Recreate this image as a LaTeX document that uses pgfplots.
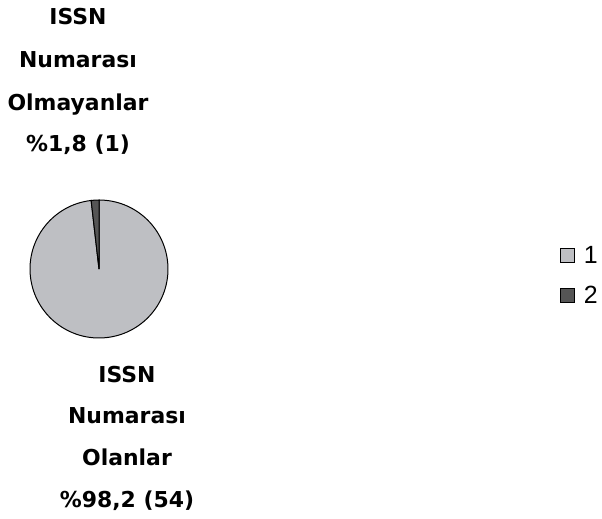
\documentclass[border=0pt]{standalone}
\usepackage{fontspec}
\setmainfont{DejaVu Sans}
\newfontfamily\legfont{Liberation Sans}
\usepackage{pgfplots}
\pgfplotsset{compat=1.18}
\definecolor{pieA}{HTML}{BEBFC3}
\definecolor{pieB}{HTML}{555555}
% slice values
\def\valA{54}
\def\valB{1}
\begin{document}
\begin{tikzpicture}
\pgfmathsetmacro{\tot}{\valA+\valB}
\pgfmathsetmacro{\angB}{360*\valB/\tot}
\begin{axis}[scale only axis, width=602bp, height=519bp,
  xmin=0, xmax=602, ymin=0, ymax=519, y dir=reverse,
  hide axis, clip=false,
  legend style={at={(axis cs:558,242)}, anchor=north west, draw=none, fill=none,
    font=\legfont\fontsize{25}{28}\selectfont, row sep=17bp, inner sep=2bp,
    nodes={inner sep=2bp}},
  legend cell align=left,
  legend image code/.code={\filldraw[#1, draw=black, line width=1bp] (0bp,-7bp) rectangle (14bp,7bp); \path (21bp,0bp);}]
\addlegendimage{fill=pieA}
\addlegendentry{1}
\addlegendimage{fill=pieB}
\addlegendentry{2}
% pie, drawn clockwise from 12 o'clock
\filldraw[fill=pieA, draw=black, line width=1bp] (axis cs:99,269) -- ++(90+\angB:69bp) arc[start angle=90+\angB, end angle=450, radius=69bp] -- cycle;
\filldraw[fill=pieB, draw=black, line width=1bp] (axis cs:99,269) -- ++(90:69bp) arc[start angle=90, end angle=90+\angB, radius=69bp] -- cycle;
% labels
\begin{scope}[every node/.style={anchor=base, font=\bfseries\fontsize{22}{26}\selectfont, inner sep=0pt}]
\node at (axis cs:78,25) {ISSN};
\node at (axis cs:78,68) {Numarası};
\node at (axis cs:78,111) {Olmayanlar};
\node at (axis cs:78,151) {\%1,8 (1)};
\node at (axis cs:127,382) {ISSN};
\node at (axis cs:127,423) {Numarası};
\node at (axis cs:127,465) {Olanlar};
\node at (axis cs:127,507) {\%98,2 (54)};
\end{scope}
\coordinate (BL) at (axis cs:0,519);
\coordinate (TR) at (axis cs:602,0);
\end{axis}
\pgfresetboundingbox
\path (BL) rectangle (TR);
\end{tikzpicture}
\end{document}
